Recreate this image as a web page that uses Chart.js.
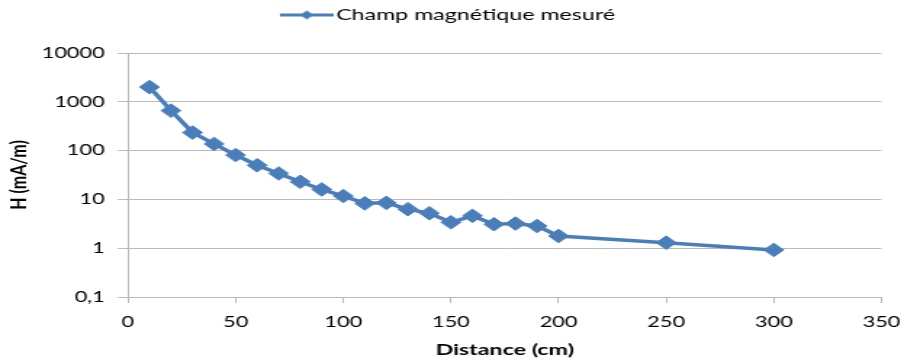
<!DOCTYPE html>
<html>
<head>
<meta charset="utf-8">
<script src="https://cdn.jsdelivr.net/npm/chart.js@4/dist/chart.umd.min.js"></script>
<style>
  html, body { margin: 0; padding: 0; background: #fff; overflow: hidden; }
  #wrap { position: absolute; left: 0; top: 0; width: 623px; height: 360px;
          transform: scaleX(1.4510); transform-origin: 0 0; }
</style>
</head>
<body>
<div id="wrap"><canvas id="c"></canvas></div>
<script>
// ---- data ----
const DISTANCE_CM = [10, 20, 30, 40, 50, 60, 70, 80, 90, 100, 110, 120, 130, 140, 150, 160, 170, 180, 190, 200, 250, 300];
const H_MA_PER_M  = [2000, 660, 234, 137, 81, 50, 34, 23, 16, 11.7, 8.3, 8.5, 6.3, 5.2, 3.4, 4.6, 3.1, 3.2, 2.85, 1.78, 1.3, 0.92];
const Y_TICKS  = [0.1, 1, 10, 100, 1000, 10000];
const Y_LABELS = ['0,1', '1', '10', '100', '1000', '10000'];
const X_TICKS  = [0, 50, 100, 150, 200, 250, 300, 350];
const SERIES_NAME = 'Champ magnétique mesuré';
const X_TITLE = 'Distance (cm)';
const Y_TITLE = 'H (mA/m)';

const BLUE = '#4A7EBB';
const GRID = '#b9b9b9';

Chart.defaults.font.family = 'Lato, "Open Sans", sans-serif';
Chart.defaults.color = '#000';

// legend icon: line with small diamond
const icon = document.createElement('canvas');
icon.width = 37; icon.height = 12;
(function () {
  const g = icon.getContext('2d');
  g.strokeStyle = BLUE; g.lineWidth = 3;
  g.beginPath(); g.moveTo(0, 6); g.lineTo(37, 6); g.stroke();
  g.fillStyle = BLUE;
  g.beginPath(); g.moveTo(18.5 - 4.5, 6); g.lineTo(18.5, 1.5); g.lineTo(18.5 + 4.5, 6); g.lineTo(18.5, 10.5); g.closePath(); g.fill();
})();

const legendHeightFix = {
  id: 'legendHeightFix',
  beforeLayout(chart) {
    const lg = chart.legend;
    if (lg && !lg._patched) {
      const f = lg.fit.bind(lg);
      lg.fit = function () { f(); this.height = 53; };
      lg._patched = true;
    }
  }
};

new Chart(document.getElementById('c'), {
  type: 'line',
  data: {
    datasets: [{
      label: SERIES_NAME,
      data: DISTANCE_CM.map((x, i) => ({ x: x, y: H_MA_PER_M[i] })),
      borderColor: BLUE,
      backgroundColor: BLUE,
      borderWidth: 3.5,
      tension: 0,
      pointStyle: 'rectRot',
      pointRadius: 6.8,
      pointBorderWidth: 1,
      pointBackgroundColor: BLUE,
      pointBorderColor: BLUE,
      fill: false
    }]
  },
  options: {
    responsive: true,
    maintainAspectRatio: false,
    animation: false,
    layout: { padding: 0 },
    plugins: {
      tooltip: { enabled: false },
      legend: {
        position: 'top',
        labels: {
          usePointStyle: true,
          pointStyleWidth: 24.5,
          padding: 7,
          font: { size: 16 },
          color: '#000',
          generateLabels: () => [{
            text: SERIES_NAME, fillStyle: BLUE, strokeStyle: BLUE, lineWidth: 0,
            pointStyle: icon, hidden: false, datasetIndex: 0, fontColor: '#000'
          }]
        }
      }
    },
    scales: {
      x: {
        type: 'linear',
        min: 0, max: 350,
        afterBuildTicks: (s) => { s.ticks = X_TICKS.map(v => ({ value: v })); },
        afterFit: (s) => { s.height = 63; s.paddingLeft = 0; s.paddingRight = 15.5; },
        ticks: { font: { size: 15 }, padding: 10, color: '#000' },
        grid: { drawOnChartArea: false, drawTicks: true, tickLength: 6, color: GRID, lineWidth: 1 },
        border: { display: true, color: GRID, width: 1 },
        title: { display: true, text: X_TITLE, font: { size: 16, weight: 'bold' }, padding: { top: 0, bottom: 1 }, color: '#000' }
      },
      y: {
        type: 'logarithmic',
        min: 0.1, max: 10000,
        afterBuildTicks: (s) => { s.ticks = Y_TICKS.map(v => ({ value: v })); },
        afterFit: (s) => { s.width = 88.2; },
        ticks: {
          font: { size: 15 }, padding: 9, color: '#000',
          callback: (v, i) => Y_LABELS[i]
        },
        grid: { drawOnChartArea: true, drawTicks: true, tickLength: 7, color: GRID, lineWidth: 1 },
        border: { display: true, color: GRID, width: 1 },
        title: { display: true, text: Y_TITLE, font: { size: 16, weight: 'bold' }, padding: { top: 3, bottom: 0 }, color: '#000' }
      }
    }
  },
  plugins: [legendHeightFix]
});
</script>
</body>
</html>
